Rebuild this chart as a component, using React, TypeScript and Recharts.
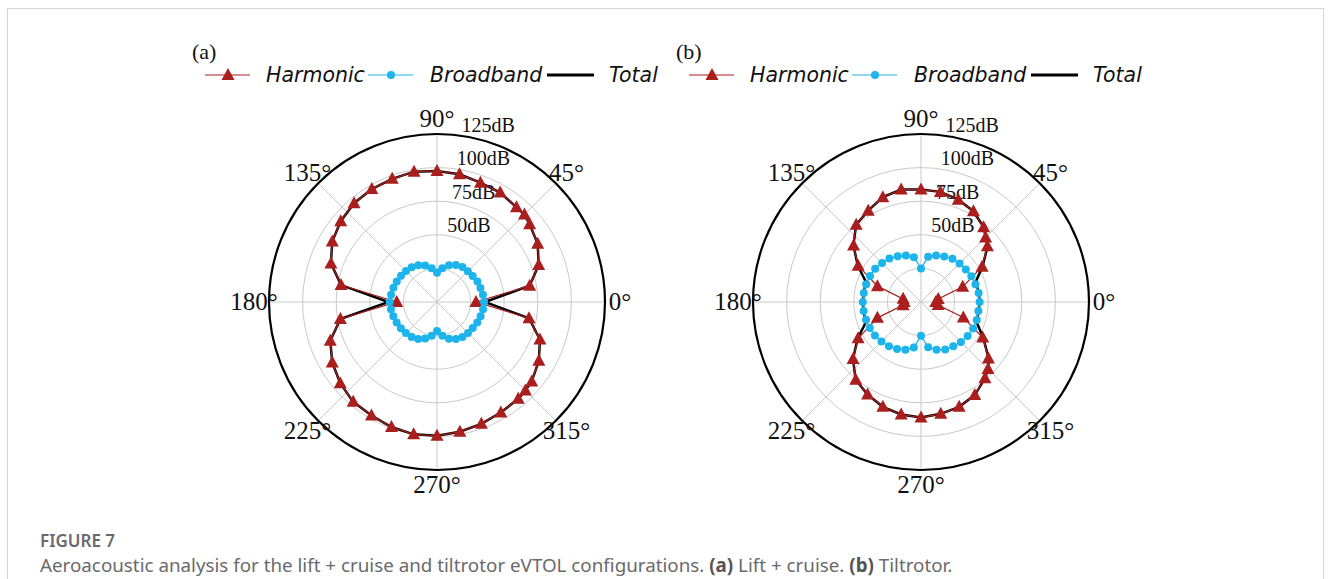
import React from "react";
import {
  RadarChart,
  Radar,
  PolarGrid,
  PolarAngleAxis,
  PolarRadiusAxis,
} from "recharts";

// sampling angles, degrees (0° = +x, counter-clockwise)
const harmonicAngles = [
  0, 10, 20, 30, 40, 45, 50, 60, 70, 80, 90, 100, 110, 120, 130, 140, 150, 160, 170,
  180, 190, 200, 210, 220, 230, 240, 250, 260, 270, 280, 290, 300, 310, 315, 320, 330,
  340, 350,
];
const broadbandAngles = [
  0, 9, 18, 27, 36, 45, 54, 63, 72, 81, 90, 99, 108, 117, 126, 135, 144, 153, 162, 171,
  180, 189, 198, 207, 216, 225, 234, 243, 252, 261, 270, 279, 288, 297, 306, 315, 324,
  333, 342, 351,
];

// (a) lift + cruise, SPL in dB
const liftHarmonic = [
  29, 70, 80.5, 86.5, 90, 92, 92, 94, 94.5, 96.5, 97.5, 98.5, 97.5, 97, 96, 93.5, 90, 84,
  72.5, 30, 73, 84.5, 90, 94, 97, 97.5, 99, 100, 99.5, 98, 96.5, 95, 94, 93, 92, 87.5,
  81.5, 69.5,
];
const liftBroadband = [
  35, 34.6, 34, 33.7, 32.8, 32.4, 32.2, 31, 28.7, 25.4, 21.8, 25.4, 28.5, 30.6, 32, 32.6,
  33.1, 33.6, 34.1, 34.6, 35.2, 34.7, 34.2, 33.7, 33.2, 32.7, 32.1, 30.8, 28.6, 25.5,
  21.5, 25.5, 28.8, 31, 32.3, 32.6, 32.9, 33.6, 34.1, 34.7,
];
const liftTotal = [
  35.6, 70, 80.5, 86.5, 90, 92, 92, 94, 94.5, 96.5, 97.5, 98.5, 97.5, 97, 96, 93.5, 90,
  84, 72.5, 36, 73, 84.5, 90, 94, 97, 97.5, 99, 100, 99.5, 98, 96.5, 95, 94, 93, 92,
  87.5, 81.5, 69.5,
];

// (b) tiltrotor, SPL in dB
const tiltHarmonic = [
  11, 13, 33, 52.5, 64.5, 68, 72.5, 78, 81, 83.2, 83.7, 85, 83, 78.5, 75, 65.5, 54, 34.5,
  13.5, 12.5, 13.5, 34.5, 54, 66, 75.5, 79.5, 83, 85, 86, 84.5, 83, 80, 74, 70.5, 65.5,
  53, 33.5, 13,
];
const tiltBroadband = [
  43.6, 43.4, 42.6, 42, 41.2, 40.6, 39.8, 38, 36.4, 34, 25, 33.8, 36.4, 38.2, 40, 41,
  42.2, 42.6, 42.9, 43.1, 43.3, 43.2, 43, 42.8, 42.4, 41.6, 40.6, 39.2, 37.4, 34.2, 25.2,
  34, 37.4, 39.6, 40.8, 42, 42.9, 43.5, 43.6, 43.2,
];
const tiltTotal = [
  43.7, 43.5, 43.2, 52.9, 64.7, 68.1, 72.6, 78, 81, 83.2, 83.7, 85, 83, 78.5, 75.1, 65.6,
  54.4, 43.6, 43.2, 43.3, 43.3, 43.6, 54.4, 66.1, 75.6, 79.5, 83, 85, 86, 84.5, 83, 80,
  74.1, 70.7, 65.8, 53.5, 44.1, 43.3,
];

const angleTicks = [0, 45, 90, 135, 180, 225, 270, 315];
const radiusTicks = [25, 50, 75, 100, 125];

const RED = "#AA1E1E";
const BLUE = "#1CB4EA";
const SERIF = "'Liberation Serif', 'Times New Roman', serif";
const SANS = "'DejaVu Sans', sans-serif";

const SIZE = 420;
const MID = SIZE / 2;
const OUTER = 168;

const toRows = (angles: number[], values: number[]) =>
  angles.map((angle, i) => ({ angle, value: values[i] }));

const AngleTick = (props: any) => {
  const { x, y, payload } = props;
  return (
    <text x={x} y={y} dy={8} textAnchor="middle" fontFamily={SERIF} fontSize={25} fill="#111">
      {`${payload.value}°`}
    </text>
  );
};

const RadiusTick = (props: any) => {
  const { x, y, payload } = props;
  if (payload.value < 50) return <g />;
  return (
    <text x={x + 1} y={y - 3.5} textAnchor="start" fontFamily={SERIF} fontSize={20} fill="#111">
      {`${payload.value}dB`}
    </text>
  );
};

const triangleDot = (props: any) => {
  const { cx, cy, index } = props;
  if (cx == null || cy == null) return <g key={`t${index}`} />;
  return (
    <polygon
      key={`t${index}`}
      points={`${cx},${cy - 7} ${cx - 6.5},${cy + 5} ${cx + 6.5},${cy + 5}`}
      fill={RED}
    />
  );
};

// one transparent layer per series, all sharing the same polar scales
function Layer({ rows, base, children }: { rows: any[]; base?: boolean; children: React.ReactNode }) {
  return (
    <div style={{ position: "absolute", left: 0, top: 0 }}>
      <RadarChart
        width={SIZE}
        height={SIZE}
        cx={MID}
        cy={MID}
        outerRadius={OUTER}
        startAngle={0}
        endAngle={360}
        data={rows}
        margin={{ top: 0, right: 0, bottom: 0, left: 0 }}
      >
        {base && <PolarGrid gridType="circle" stroke="#c9c9c9" strokeWidth={1} />}
        <PolarAngleAxis
          type="number"
          dataKey="angle"
          domain={[0, 360]}
          ticks={angleTicks}
          tickSize={15}
          tickLine={false}
          axisLineType="circle"
          axisLine={base ? { stroke: "#000", strokeWidth: 2.2 } : false}
          tick={base ? <AngleTick /> : false}
        />
        <PolarRadiusAxis
          type="number"
          angle={82}
          domain={[0, 125]}
          ticks={radiusTicks}
          axisLine={false}
          tickLine={false}
          tick={base ? <RadiusTick /> : false}
        />
        {children}
      </RadarChart>
    </div>
  );
}

function Panel({
  cx,
  tag,
  harmonic,
  broadband,
  total,
}: {
  cx: number;
  tag: string;
  harmonic: number[];
  broadband: number[];
  total: number[];
}) {
  const cy = 302;
  return (
    <>
      <svg
        width={520}
        height={60}
        style={{ position: "absolute", left: cx - 260, top: 30 }}
        viewBox={`${cx - 260} 30 520 60`}
      >
        <text x={cx - 245} y={59} fontFamily={SERIF} fontSize={22} fill="#111">
          {tag}
        </text>
        <line x1={cx - 232} x2={cx - 187} y1={75} y2={75} stroke={RED} strokeWidth={1.2} />
        <polygon
          points={`${cx - 209},${68} ${cx - 215.5},${80} ${cx - 202.5},${80}`}
          fill={RED}
        />
        <text x={cx - 171} y={82} fontFamily={SANS} fontStyle="italic" fontSize={20.5} fill="#111">
          Harmonic
        </text>
        <line x1={cx - 69} x2={cx - 24} y1={75} y2={75} stroke={BLUE} strokeWidth={1.2} />
        <circle cx={cx - 46} cy={75} r={4} fill={BLUE} />
        <text x={cx - 7} y={82} fontFamily={SANS} fontStyle="italic" fontSize={20.5} fill="#111">
          Broadband
        </text>
        <line x1={cx + 110} x2={cx + 157} y1={75} y2={75} stroke="#000" strokeWidth={3} />
        <text x={cx + 172} y={82} fontFamily={SANS} fontStyle="italic" fontSize={20.5} fill="#111">
          Total
        </text>
      </svg>
      <div style={{ position: "absolute", left: cx - MID, top: cy - MID, width: SIZE, height: SIZE }}>
        <Layer rows={toRows(harmonicAngles, total)} base>
          <Radar
            dataKey="value"
            stroke="#000"
            strokeWidth={2.5}
            fill="none"
            fillOpacity={0}
            isAnimationActive={false}
          />
        </Layer>
        <Layer rows={toRows(harmonicAngles, harmonic)}>
          <Radar
            dataKey="value"
            stroke={RED}
            strokeWidth={1.2}
            fill="none"
            fillOpacity={0}
            dot={triangleDot}
            isAnimationActive={false}
          />
        </Layer>
        <Layer rows={toRows(broadbandAngles, broadband)}>
          <Radar
            dataKey="value"
            stroke={BLUE}
            strokeWidth={1.2}
            fill="none"
            fillOpacity={0}
            dot={{ r: 4, fill: BLUE, stroke: "none", fillOpacity: 1 }}
            isAnimationActive={false}
          />
        </Layer>
      </div>
    </>
  );
}

export default function App() {
  return (
    <div
      style={{
        position: "absolute",
        left: 0,
        top: 0,
        width: 1330,
        height: 579,
        background: "#fff",
        overflow: "hidden",
      }}
    >
      <div
        style={{
          position: "absolute",
          left: 7,
          top: 8,
          width: 1315,
          height: 640,
          border: "1px solid #d4d4d4",
        }}
      />
      <Panel cx={437} tag="(a)" harmonic={liftHarmonic} broadband={liftBroadband} total={liftTotal} />
      <Panel cx={921} tag="(b)" harmonic={tiltHarmonic} broadband={tiltBroadband} total={tiltTotal} />
      <div
        style={{
          position: "absolute",
          left: 40,
          top: 531,
          lineHeight: "20px",
          fontFamily: "'Noto Sans', sans-serif",
          fontSize: 17,
          fontWeight: 600,
          color: "#6a6a6a",
        }}
      >
        FIGURE 7
      </div>
      <div
        style={{
          position: "absolute",
          left: 40,
          top: 556,
          lineHeight: "19px",
          fontFamily: "'Noto Sans', sans-serif",
          fontSize: 18.8,
          color: "#6a6a6a",
          whiteSpace: "nowrap",
        }}
      >
        Aeroacoustic analysis for the lift + cruise and tiltrotor eVTOL configurations.{" "}
        <b style={{ color: "#555" }}>(a)</b> Lift + cruise. <b style={{ color: "#555" }}>(b)</b>{" "}
        Tiltrotor.
      </div>
    </div>
  );
}
